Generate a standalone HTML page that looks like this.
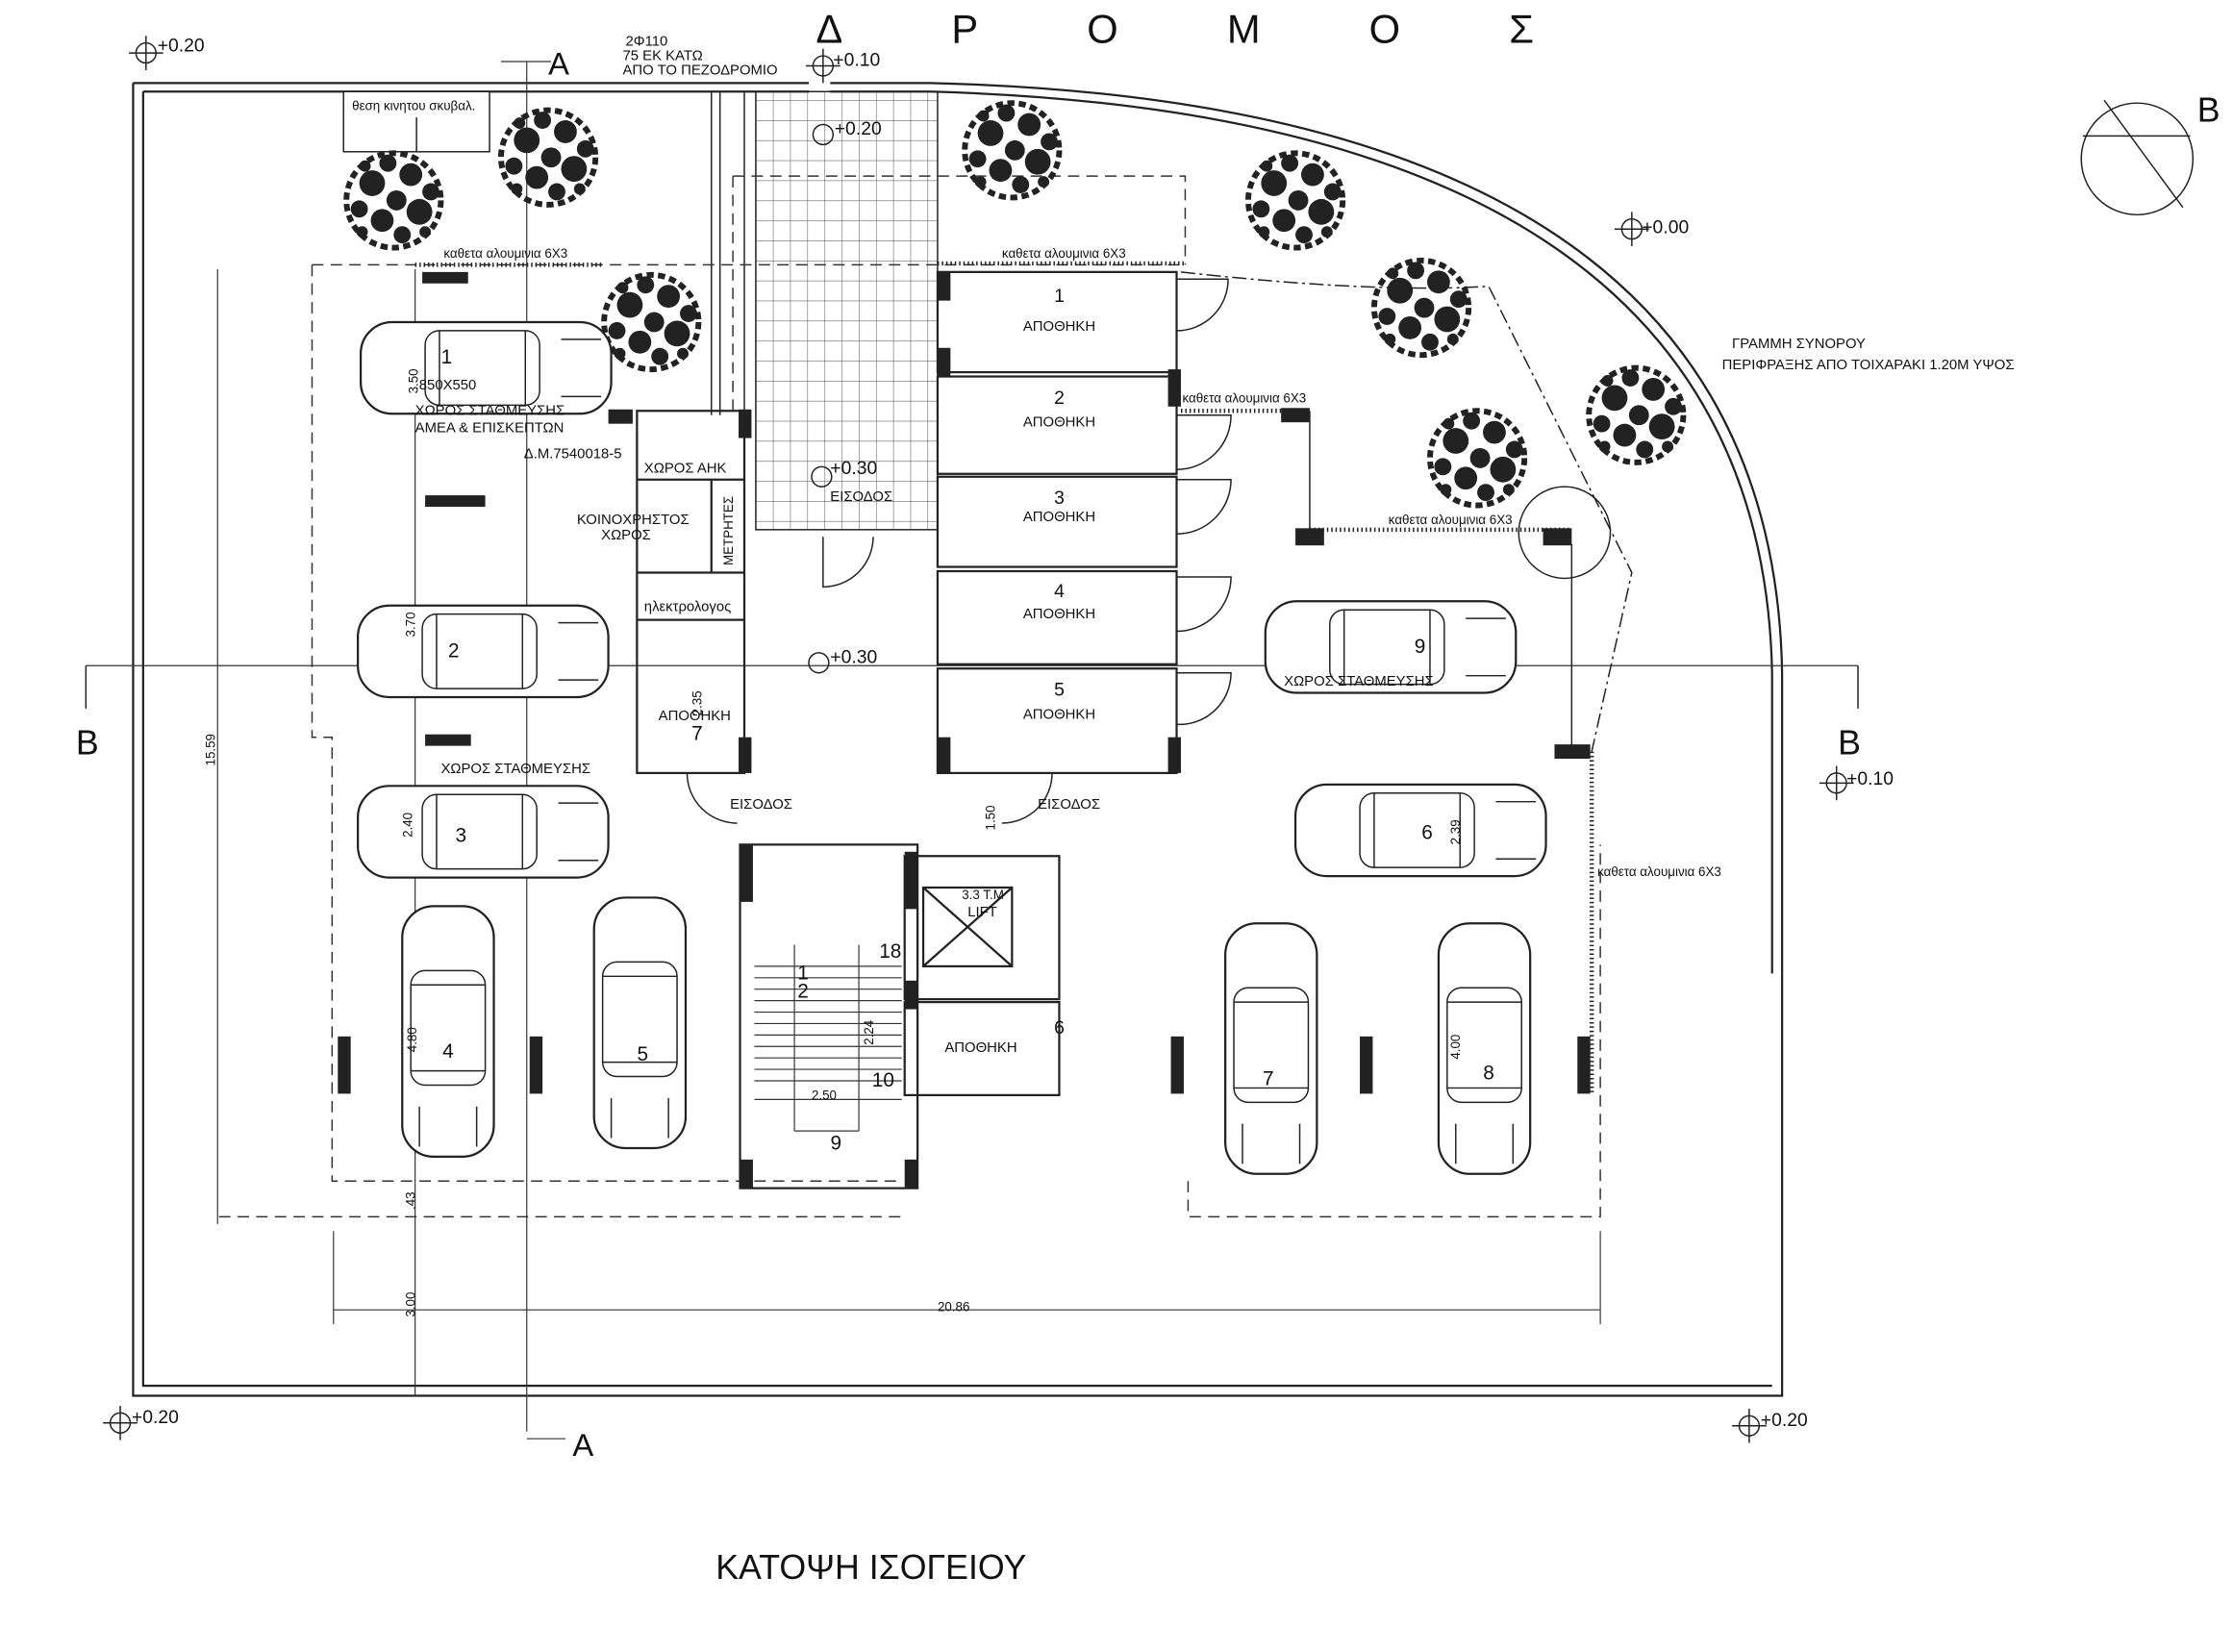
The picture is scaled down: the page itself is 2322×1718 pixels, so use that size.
<!DOCTYPE html>
<html><head><meta charset="utf-8"><style>
html,body{margin:0;padding:0;background:#fff}
svg{display:block}
text{font-family:"Liberation Sans",sans-serif;fill:#111}
</style></head><body>
<svg width="2322" height="1718" viewBox="0 0 1560 1154" preserveAspectRatio="none" xmlns="http://www.w3.org/2000/svg">
<defs>
<g id="car">
<rect x="0" y="0" width="175" height="64" rx="22" fill="#fff" stroke="#222" stroke-width="1.5"/>
<rect x="45" y="6" width="80" height="52" rx="10" fill="none" stroke="#222" stroke-width="1"/>
<line x1="55" y1="6" x2="55" y2="58" stroke="#222"/>
<line x1="115" y1="6" x2="115" y2="58" stroke="#222"/>
<line x1="140" y1="12" x2="168" y2="12" stroke="#222"/>
<line x1="140" y1="52" x2="168" y2="52" stroke="#222"/>
</g>
<g id="carv">
<rect x="0" y="0" width="64" height="175" rx="22" fill="#fff" stroke="#222" stroke-width="1.5"/>
<rect x="6" y="45" width="52" height="80" rx="10" fill="none" stroke="#222" stroke-width="1"/>
<line x1="6" y1="55" x2="58" y2="55" stroke="#222"/>
<line x1="6" y1="115" x2="58" y2="115" stroke="#222"/>
<line x1="12" y1="140" x2="12" y2="168" stroke="#222"/>
<line x1="52" y1="140" x2="52" y2="168" stroke="#222"/>
</g>
<g id="tree" fill="#222">
<circle cx="0" cy="0" r="33" fill="none" stroke="#222" stroke-width="4" stroke-dasharray="5 3"/>
<circle cx="-15" cy="-12" r="9"/><circle cx="12" cy="-18" r="8"/><circle cx="18" cy="8" r="9"/>
<circle cx="-8" cy="14" r="8"/><circle cx="2" cy="0" r="7"/><circle cx="-24" cy="6" r="6"/>
<circle cx="6" cy="24" r="6"/><circle cx="26" cy="-6" r="6"/><circle cx="-4" cy="-26" r="6"/>
<circle cx="-20" cy="-24" r="4"/><circle cx="22" cy="22" r="4"/><circle cx="-22" cy="22" r="4"/>
</g>
<pattern id="tile" width="12" height="14" patternUnits="userSpaceOnUse">
<path d="M0 0H12M0 0V14" stroke="#666" stroke-width="0.8" fill="none"/></pattern>
</defs>

<g stroke="#222" fill="none" stroke-width="1.5">
<path d="M93 58 H565 M580 58 H650 Q1238 72 1245 470 V680"/>
<path d="M100 64 H565 M580 64 H650 Q1230 80 1238 470 V680"/>
<path d="M93 58 V975 H1245 V680"/>
<path d="M100 64 V968 H1238"/>
</g>

<rect x="528" y="64" width="127" height="306" fill="url(#tile)" stroke="#222"/>
<line x1="497" y1="64" x2="497" y2="290" stroke="#222"/>
<line x1="503" y1="64" x2="503" y2="290" stroke="#222"/>
<line x1="520" y1="64" x2="520" y2="290" stroke="#222"/>

<g stroke="#333" fill="none" stroke-width="1" stroke-dasharray="8 5">
<path d="M218 185 H828 M218 185 V515 H232 V825 H630 M830 825 V850 H1118 V590"/>
<path d="M512 123 H828 V185"/>
<path d="M512 123 V290"/>
<path d="M153 850 H630"/>
</g>

<g stroke="#333" stroke-width="0.8" fill="none">
<line x1="152" y1="188" x2="152" y2="855"/>
<line x1="290" y1="188" x2="290" y2="975"/>
<line x1="233" y1="915" x2="1118" y2="915"/>
<line x1="233" y1="860" x2="233" y2="925"/>
<line x1="1118" y1="860" x2="1118" y2="925"/>
<line x1="60" y1="465" x2="1298" y2="465"/>
<line x1="368" y1="43" x2="368" y2="1000"/>
<line x1="350" y1="43" x2="385" y2="43"/>
<line x1="368" y1="1005" x2="395" y2="1005"/>
</g>
<path d="M60 465 V495 M1298 465 V495" stroke="#222"/>
<text x="53" y="527" font-size="24">B</text>
<text x="1284" y="527" font-size="24">B</text>
<text x="383" y="52" font-size="22">A</text>
<text x="400" y="1017" font-size="22">A</text>

<g stroke="#222" fill="#fff" stroke-width="1.5">
<rect x="655" y="190" width="167" height="70"/>
<rect x="655" y="263" width="167" height="68"/>
<rect x="655" y="333" width="167" height="63"/>
<rect x="655" y="399" width="167" height="65"/>
<rect x="655" y="467" width="167" height="73"/>
</g>
<g font-size="10" text-anchor="middle">
<text x="740" y="211" font-size="13">1</text><text x="740" y="231">ΑΠΟΘΗΚΗ</text>
<text x="740" y="282" font-size="13">2</text><text x="740" y="298">ΑΠΟΘΗΚΗ</text>
<text x="740" y="352" font-size="13">3</text><text x="740" y="364">ΑΠΟΘΗΚΗ</text>
<text x="740" y="417" font-size="13">4</text><text x="740" y="432">ΑΠΟΘΗΚΗ</text>
<text x="740" y="486" font-size="13">5</text><text x="740" y="502">ΑΠΟΘΗΚΗ</text>
</g>
<g stroke="#222" fill="none" stroke-width="1">
<path d="M822 195 H858 A36 36 0 0 1 822 231"/>
<path d="M822 290 H860 A38 38 0 0 1 822 328"/>
<path d="M822 335 H860 A38 38 0 0 1 822 373"/>
<path d="M822 403 H860 A38 38 0 0 1 822 441"/>
<path d="M822 470 H860 A36 36 0 0 1 822 506"/>
<path d="M480 540 H515 M480 540 A35 35 0 0 0 515 575"/>
<path d="M700 540 H735 A35 35 0 0 1 700 575"/>
<path d="M575 375 V410 A35 35 0 0 0 610 375"/>
</g>

<g fill="#222">
<rect x="295" y="190" width="32" height="8"/><rect x="297" y="346" width="42" height="8"/><rect x="297" y="513" width="32" height="8"/>
<rect x="655" y="190" width="9" height="20"/><rect x="655" y="243" width="9" height="20"/><rect x="655" y="515" width="9" height="25"/>
<rect x="816" y="258" width="9" height="26"/><rect x="816" y="515" width="9" height="25"/>
<rect x="425" y="286" width="17" height="10"/><rect x="516" y="286" width="9" height="20"/><rect x="516" y="515" width="9" height="25"/>
<rect x="895" y="285" width="20" height="10"/><rect x="905" y="369" width="20" height="12"/><rect x="1078" y="369" width="20" height="12"/>
<rect x="1086" y="520" width="25" height="10"/>
<rect x="236" y="724" width="9" height="40"/><rect x="370" y="724" width="9" height="40"/>
<rect x="818" y="724" width="9" height="40"/><rect x="950" y="724" width="9" height="40"/><rect x="1102" y="724" width="9" height="40"/>
<rect x="517" y="590" width="9" height="40"/><rect x="632" y="595" width="9" height="40"/><rect x="632" y="685" width="9" height="20"/>
<rect x="517" y="810" width="9" height="20"/><rect x="632" y="810" width="9" height="20"/>
</g>
<g stroke="#222" stroke-width="3" stroke-dasharray="1 2">
<line x1="290" y1="185" x2="420" y2="185"/><line x1="655" y1="184" x2="828" y2="184"/>
<line x1="825" y1="287" x2="915" y2="287"/><line x1="915" y1="370" x2="1098" y2="370"/>
<line x1="1112" y1="525" x2="1112" y2="765"/>
</g>
<g stroke="#222" fill="none" stroke-width="1">
<line x1="915" y1="287" x2="915" y2="370"/>
<line x1="1098" y1="380" x2="1098" y2="525"/>
<circle cx="1093" cy="372" r="32"/>
<path d="M825 190 Q960 205 1040 200 L1140 400 L1112 525" stroke-dasharray="10 3 2 3"/>
</g>

<g stroke="#222" fill="none" stroke-width="1.5">
<rect x="445" y="287" width="75" height="253"/>
<line x1="445" y1="335" x2="520" y2="335"/><line x1="445" y1="400" x2="520" y2="400"/>
<line x1="445" y1="433" x2="520" y2="433"/>
<line x1="497" y1="335" x2="497" y2="400"/>
<rect x="517" y="590" width="124" height="240"/>
<rect x="632" y="598" width="108" height="100"/>
<rect x="645" y="620" width="62" height="55"/>
<rect x="632" y="700" width="108" height="65"/>
<line x1="645" y1="620" x2="707" y2="675"/><line x1="707" y1="620" x2="645" y2="675"/>
</g>
<g stroke="#333" stroke-width="0.8">
<line x1="527" y1="675" x2="630" y2="675"/><line x1="527" y1="683" x2="630" y2="683"/>
<line x1="527" y1="691" x2="630" y2="691"/><line x1="527" y1="699" x2="630" y2="699"/>
<line x1="527" y1="707" x2="630" y2="707"/><line x1="527" y1="715" x2="630" y2="715"/>
<line x1="527" y1="723" x2="630" y2="723"/><line x1="527" y1="731" x2="630" y2="731"/>
<line x1="527" y1="739" x2="630" y2="739"/><line x1="527" y1="747" x2="630" y2="747"/>
<line x1="527" y1="755" x2="630" y2="755"/><line x1="527" y1="768" x2="630" y2="768"/>
<line x1="555" y1="660" x2="555" y2="790"/><line x1="600" y1="660" x2="600" y2="790"/>
<line x1="555" y1="790" x2="600" y2="790"/>
</g>

<rect x="240" y="64" width="102" height="42" fill="#fff" stroke="#222"/>
<line x1="291" y1="82" x2="291" y2="106" stroke="#222"/>
<text x="246" y="77" font-size="9">θεση κινητου σκυβαλ.</text>

<use href="#tree" x="275" y="140"/><use href="#tree" x="383" y="110"/>
<use href="#tree" x="707" y="105"/><use href="#tree" x="905" y="140"/>
<use href="#tree" x="993" y="215"/><use href="#tree" x="1143" y="290"/>
<use href="#tree" x="1032" y="320"/><use href="#tree" x="455" y="225"/>

<use href="#car" x="252" y="225"/>
<use href="#car" x="250" y="423"/>
<use href="#car" x="250" y="549"/>
<use href="#car" x="884" y="420"/>
<use href="#car" x="905" y="548"/>
<use href="#carv" x="281" y="633"/><use href="#carv" x="415" y="627"/>
<use href="#carv" x="856" y="645"/><use href="#carv" x="1005" y="645"/>
<g font-size="14" text-anchor="middle">
<text x="312" y="254">1</text><text x="317" y="459">2</text><text x="322" y="588">3</text>
<text x="313" y="739">4</text><text x="449" y="741">5</text><text x="886" y="758">7</text>
<text x="1040" y="754">8</text><text x="992" y="456">9</text><text x="997" y="586">6</text>
<text x="740" y="722" font-size="13">6</text><text x="584" y="803">9</text>
<text x="561" y="684">1</text><text x="561" y="697">2</text><text x="622" y="669">18</text><text x="617" y="759">10</text>
<text x="487" y="517">7</text>
</g>

<g font-size="10">
<text x="290" y="272">.850X550</text>
<text x="290" y="290">ΧΩΡΟΣ ΣΤΑΘΜΕΥΣΗΣ</text>
<text x="290" y="302">ΑΜΕΑ &amp; ΕΠΙΣΚΕΠΤΩΝ</text>
<text x="366" y="320">Δ.Μ.7540018-5</text>
<text x="450" y="330">ΧΩΡΟΣ ΑΗΚ</text>
<text x="403" y="366">ΚΟΙΝΟΧΡΗΣΤΟΣ</text>
<text x="420" y="377">ΧΩΡΟΣ</text>
<text x="450" y="427">ηλεκτρολογος</text>
<text x="460" y="503">ΑΠΟΘΗΚΗ</text>
<text x="308" y="540">ΧΩΡΟΣ ΣΤΑΘΜΕΥΣΗΣ</text>
<text x="897" y="479">ΧΩΡΟΣ ΣΤΑΘΜΕΥΣΗΣ</text>
<text x="510" y="565">ΕΙΣΟΔΟΣ</text><text x="725" y="565">ΕΙΣΟΔΟΣ</text>
<text x="580" y="350">ΕΙΣΟΔΟΣ</text>
<text x="660" y="735">ΑΠΟΘΗΚΗ</text>
<text x="310" y="180" font-size="9">καθετα αλουμινια 6Χ3</text>
<text x="700" y="180" font-size="9">καθετα αλουμινια 6Χ3</text>
<text x="826" y="281" font-size="9">καθετα αλουμινια 6Χ3</text>
<text x="970" y="366" font-size="9">καθετα αλουμινια 6Χ3</text>
<text x="1116" y="612" font-size="9">καθετα αλουμινια 6Χ3</text>
<text x="1210" y="243">ΓΡΑΜΜΗ ΣΥΝΟΡΟΥ</text>
<text x="1203" y="258">ΠΕΡΙΦΡΑΞΗΣ ΑΠΟ ΤΟΙΧΑΡΑΚΙ  1.20Μ ΥΨΟΣ</text>
<text x="437" y="32">2Φ110</text><text x="435" y="42">75 ΕΚ ΚΑΤΩ</text><text x="435" y="52">ΑΠΟ ΤΟ ΠΕΖΟΔΡΟΜΙΟ</text>
<text x="672" y="628" font-size="9">3.3 Τ.Μ</text><text x="676" y="640">LIFT</text>
<text x="655" y="916" font-size="9">20.86</text>
</g>
<g font-size="9">
<text x="292" y="275" transform="rotate(-90 292 275)">3.50</text>
<text x="290" y="445" transform="rotate(-90 290 445)">3.70</text>
<text x="288" y="585" transform="rotate(-90 288 585)">2.40</text>
<text x="291" y="735" transform="rotate(-90 291 735)">4.80</text>
<text x="150" y="535" transform="rotate(-90 150 535)">15.59</text>
<text x="290" y="920" transform="rotate(-90 290 920)">3.00</text>
<text x="290" y="845" transform="rotate(-90 290 845)">.43</text>
<text x="695" y="580" transform="rotate(-90 695 580)">1.50</text>
<text x="1020" y="590" transform="rotate(-90 1020 590)">2.39</text>
<text x="1020" y="740" transform="rotate(-90 1020 740)">4.00</text>
<text x="512" y="395" transform="rotate(-90 512 395)">ΜΕΤΡΗΤΕΣ</text>
<text x="490" y="500" transform="rotate(-90 490 500)">2.35</text>
<text x="610" y="730" transform="rotate(-90 610 730)">2.24</text>
<text x="567" y="768">2.50</text>
</g>

<g stroke="#222" fill="none" stroke-width="1">
<circle cx="102" cy="37" r="7"/><path d="M90 37H114M102 25V49"/>
<circle cx="575" cy="46" r="7"/><path d="M563 46H587M575 34V58"/>
<circle cx="1140" cy="160" r="7"/><path d="M1128 160H1152M1140 148V172"/>
<circle cx="1283" cy="547" r="7"/><path d="M1271 547H1295M1283 535V559"/>
<circle cx="84" cy="994" r="7"/><path d="M72 994H96M84 982V1006"/>
<circle cx="1222" cy="996" r="7"/><path d="M1210 996H1234M1222 984V1008"/>
<circle cx="575" cy="94" r="7"/><circle cx="574" cy="333" r="7"/><circle cx="572" cy="463" r="7"/>
<circle cx="1493" cy="111" r="39"/><path d="M1455 95 L1530 95 M1470 70 L1525 145"/>
</g>
<g font-size="13">
<text x="110" y="36">+0.20</text><text x="582" y="46">+0.10</text><text x="583" y="94">+0.20</text>
<text x="1147" y="163">+0.00</text><text x="580" y="331">+0.30</text><text x="580" y="463">+0.30</text>
<text x="1290" y="548">+0.10</text><text x="92" y="994">+0.20</text><text x="1230" y="996">+0.20</text>
</g>
<text x="1535" y="85" font-size="24">B</text>
<text x="570" y="30" font-size="28" letter-spacing="76">ΔΡΟΜΟΣ</text>
<text x="500" y="1103" font-size="24">ΚΑΤΟΨΗ ΙΣΟΓΕΙΟΥ</text>
</svg>
</body></html>
